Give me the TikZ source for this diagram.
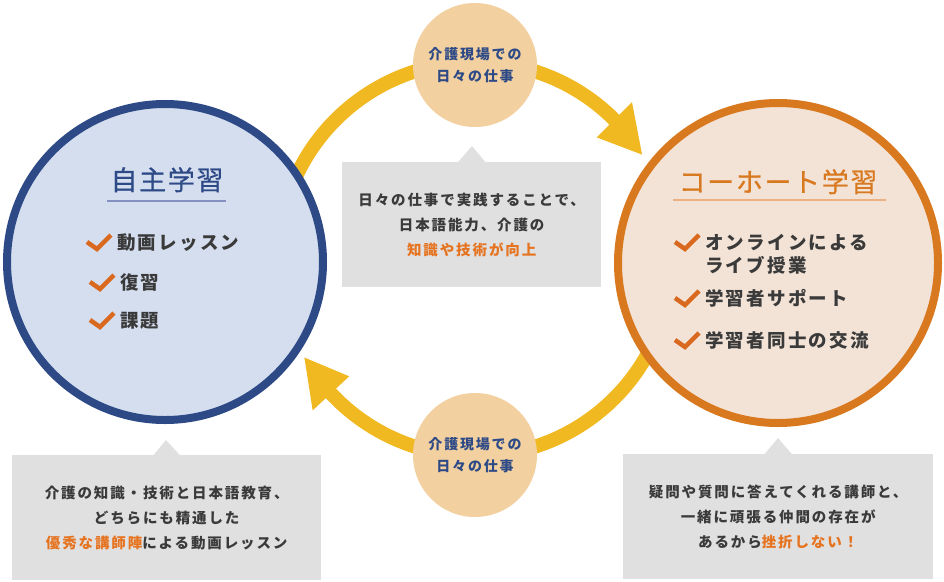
\documentclass[tikz,border=0pt]{standalone}
\usepackage{fontspec}
\newfontfamily\jptitle{Noto Sans CJK JP}[LetterSpace=6, FakeBold=0.6]
\newfontfamily\jpitem{Noto Sans CJK JP}[LetterSpace=12]
\newfontfamily\jpbody{Noto Sans CJK JP}[LetterSpace=13]
\usetikzlibrary{calc}
\definecolor{navy}{HTML}{2D4A87}
\definecolor{lblue}{HTML}{D5DEEF}
\definecolor{orangeb}{HTML}{D9791F}
\definecolor{lorange}{HTML}{F3E3D7}
\definecolor{arcyellow}{HTML}{F0B921}
\definecolor{peach}{HTML}{F3D09F}
\definecolor{boxgray}{HTML}{E0E0E0}
\definecolor{darktext}{HTML}{3A3A3A}
\definecolor{hltext}{HTML}{E5731F}
\definecolor{chkcol}{HTML}{D9691E}
\definecolor{navyline}{HTML}{8390C0}
\definecolor{orangeline}{HTML}{EDB080}
\newcommand\hl[1]{\textcolor{hltext}{#1}}
\newcommand\mychk[1]{\draw[chk] ($(#1.base west)+(-30,-7)$) -- ++(10,7) -- ++(14,-14);}
\begin{document}
\begin{tikzpicture}[x=1pt,y=-1pt,
  arcline/.style={draw=arcyellow, line width=14pt},
  arrowhd/.style={fill=arcyellow},
  bigcircle/.style={circle, line width=8pt, inner sep=0pt},
  smallcircle/.style={circle, fill=peach, inner sep=0pt, minimum size=124pt, text=navy,
     font=\jpbody\bfseries\fontsize{14}{22}\selectfont, align=center},
  calloutbox/.style={rectangle, fill=boxgray, inner sep=0pt, text=darktext,
     font=\jpbody\bfseries\fontsize{14.5}{25}\selectfont, align=center},
  pointer/.style={fill=boxgray},
  itemtext/.style={anchor=base west, inner sep=0pt, text=darktext,
     font=\jpitem\bfseries\fontsize{18.5}{23}\selectfont},
  titletext/.style={anchor=base, inner sep=0pt, font=\jptitle\fontsize{27}{30}\selectfont},
  chk/.style={draw=chkcol, line width=4.5pt},
]
\useasboundingbox (0,0) rectangle (944,581);
\coordinate (rc) at (475,259);
% cycle arcs
\draw[arcline] (rc) ++(-155:197) arc[start angle=-155, end angle=-42, radius=197];
\fill[arrowhd] ($(rc)+(-45:172)$) -- ($(rc)+(-45:222)$) -- ($(rc)+(-32:197)$) -- cycle;
\draw[arcline] (rc) ++(25:197) arc[start angle=25, end angle=140, radius=197];
\fill[arrowhd] ($(rc)+(137:172)$) -- ($(rc)+(137:222)$) -- ($(rc)+(150:197)$) -- cycle;
% big circles
\node[bigcircle, draw=navy, fill=lblue, minimum size=316pt] (L) at (165,262) {};
\node[bigcircle, draw=orangeb, fill=lorange, minimum size=320pt] (R) at (778,263) {};
% small circles
\node[smallcircle] (T) at (475,65) {介護現場での\\日々の仕事};
\node[smallcircle] (B) at (475,455) {介護現場での\\日々の仕事};
% left circle content
\node[titletext, text=navy] (Lt) at (167,190) {自主学習};
\draw[navyline, line width=1.5pt] (107,201) -- (226,201);
\node[itemtext] (L1) at (117,249) {動画レッスン};
\node[itemtext] (L2) at (120,289) {復習};
\node[itemtext] (L3) at (120,327) {課題};
\mychk{L1}\mychk{L2}\mychk{L3}
% right circle content
\node[titletext, text=orangeb] (Rt) at (778,192) {コーホート学習};
\draw[orangeline, line width=1.5pt] (673,200) -- (886,200);
\node[itemtext] (R1) at (705,249) {オンラインによる};
\node[itemtext] (R1b) at (705,272) {ライブ授業};
\node[itemtext] (R2) at (705,305) {学習者サポート};
\node[itemtext] (R3) at (705,347) {学習者同士の交流};
\mychk{R1}\mychk{R2}\mychk{R3}
% callouts
\node[calloutbox, minimum width=259pt, minimum height=125pt, anchor=north west] (C) at (342,162)
  {日々の仕事で実践することで、\\日本語能力、介護の\\\hl{知識や技術が向上}};
\fill[pointer] ($(C.north)+(-14,0.5)$) -- (472,146) -- ($(C.north)+(14,0.5)$) -- cycle;
\node[calloutbox, minimum width=309pt, minimum height=125pt, anchor=north west] (CL) at (12,455)
  {介護の知識・技術と日本語教育、\\どちらにも精通した\\\hl{優秀な講師陣}による動画レッスン};
\fill[pointer] ($(CL.north)+(-13.5,0.5)$) -- (166,440) -- ($(CL.north)+(13.5,0.5)$) -- cycle;
\node[calloutbox, minimum width=310pt, minimum height=125pt, anchor=north west] (CR) at (623,454)
  {疑問や質問に答えてくれる講師と、\\一緒に頑張る仲間の存在が\\あるから\hl{挫折しない！}};
\fill[pointer] ($(CR.north)+(-14,0.5)$) -- (778,438) -- ($(CR.north)+(14,0.5)$) -- cycle;
\end{tikzpicture}
\end{document}
